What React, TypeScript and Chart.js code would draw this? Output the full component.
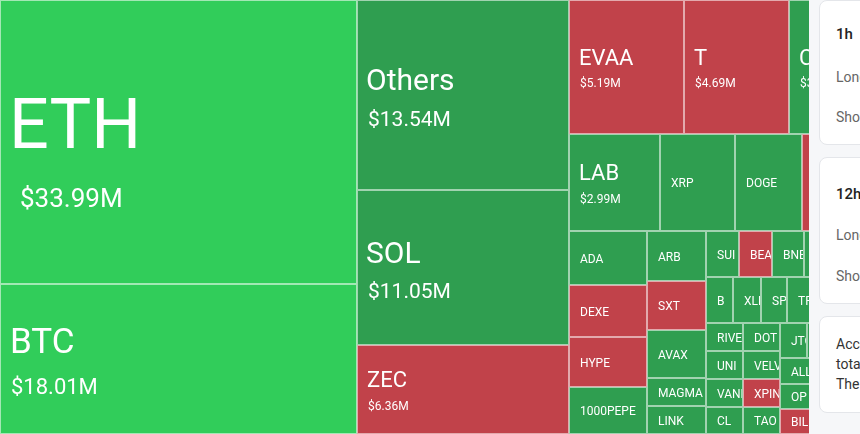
import React, { useEffect, useRef } from "react";
import { Chart, registerables } from "chart.js";

Chart.register(...registerables);

// ---------------- data ----------------
const symbols = [
  "ETH", "BTC", "Others", "SOL", "ZEC", "EVAA", "T", "COAI",
  "LAB", "XRP", "DOGE", "ASTER",
  "ADA", "DEXE", "HYPE", "1000PEPE",
  "ARB", "SXT", "AVAX", "MAGMA", "LINK",
  "SUI", "BEAT", "BNB", "ENA", "WLD",
  "B", "XLM", "SPX", "TRUMP", "LTC", "FARTCOIN",
  "RIVER", "UNI", "VANRY", "CL",
  "DOT", "VELVET", "XPIN", "TAO",
  "JTO", "PUMP", "AAVE",
  "ALLO", "OP", "BILL",
  "WIF", "NEAR", "APT", "FIL", "PENGU",
];
// liquidations in $M
const liquidations = [
  33.99, 18.01, 13.54, 11.05, 6.36, 5.19, 4.69, 3.2,
  2.99, 2.48, 2.18, 1.91,
  1.40, 1.39, 1.29, 1.25,
  0.97, 0.97, 0.94, 0.55, 0.55,
  0.51, 0.51, 0.487, 0.44, 0.41,
  0.425, 0.425, 0.40, 0.388, 0.368, 0.36,
  0.358, 0.354, 0.350, 0.347,
  0.346, 0.342, 0.338, 0.335,
  0.33, 0.32, 0.32,
  0.29, 0.285, 0.283,
  0.27, 0.25, 0.24, 0.22, 0.20,
];
// colour category of every cell
const trend = [
  "strong", "strong", "up", "up", "down", "down", "down", "up",
  "up", "up", "up", "down",
  "up", "down", "down", "up",
  "up", "down", "up", "up", "up",
  "up", "down", "up", "up", "up",
  "up", "up", "up", "up", "up", "up",
  "up", "up", "up", "up",
  "up", "up", "down", "up",
  "up", "up", "up",
  "up", "up", "down",
  "up", "down", "up", "up", "down",
];

// ---------------- layout constants ----------------
const CANVAS_H = 434;
const AREA_PER_MILLION = 2977; // px² per $1M
const VISIBLE_W = 809;
const total = liquidations.reduce((a, b) => a + b, 0);
const CANVAS_W = Math.round((total * AREA_PER_MILLION) / CANVAS_H);

const COLORS: Record<string, string> = {
  strong: "#31cd5a",
  up: "#2f9e50",
  down: "#c1424a",
};

type Cell = { i: number; x0: number; y0: number; x1: number; y1: number };

// squarified treemap (golden ratio), input order kept
function squarify(values: number[], X0: number, Y0: number, X1: number, Y1: number): Cell[] {
  const ratio = (1 + Math.sqrt(5)) / 2;
  const out: Cell[] = [];
  let x0 = X0, y0 = Y0;
  const x1 = X1, y1 = Y1;
  let value = values.reduce((a, b) => a + b, 0);
  const n = values.length;
  let i0 = 0, i1 = 0;
  while (i0 < n) {
    const dx = x1 - x0, dy = y1 - y0;
    let sumValue = values[i1++];
    let minValue = sumValue, maxValue = sumValue;
    const alpha = Math.max(dy / dx, dx / dy) / (value * ratio);
    let beta = sumValue * sumValue * alpha;
    let minRatio = Math.max(maxValue / beta, beta / minValue);
    for (; i1 < n; ++i1) {
      const nv = values[i1];
      sumValue += nv;
      if (nv < minValue) minValue = nv;
      if (nv > maxValue) maxValue = nv;
      beta = sumValue * sumValue * alpha;
      const newRatio = Math.max(maxValue / beta, beta / minValue);
      if (newRatio > minRatio) {
        sumValue -= nv;
        break;
      }
      minRatio = newRatio;
    }
    if (dx < dy) {
      const ny = i1 >= n ? y1 : y0 + (dy * sumValue) / value;
      let x = x0;
      const k = (x1 - x0) / sumValue;
      for (let i = i0; i < i1; i++) {
        const w = values[i] * k;
        out.push({ i, x0: x, y0, x1: x + w, y1: ny });
        x += w;
      }
      y0 = ny;
    } else {
      const nx = i1 >= n ? x1 : x0 + (dx * sumValue) / value;
      let y = y0;
      const k = (y1 - y0) / sumValue;
      for (let i = i0; i < i1; i++) {
        const h = values[i] * k;
        out.push({ i, x0, y0: y, x1: nx, y1: y + h });
        y += h;
      }
      x0 = nx;
    }
    value -= sumValue;
    i0 = i1;
  }
  return out;
}

type Tier = { lf: number; vf: number; ldy: number; vdy: number; lpad: number; vpad: number };
function tierFor(v: number): Tier {
  if (v >= 30) return { lf: 70, vf: 26, ldy: -18.9, vdy: 55.6, lpad: 9, vpad: 20 };
  if (v >= 15) return { lf: 35, vf: 22, ldy: -18.3, vdy: 27.6, lpad: 10, vpad: 11 };
  if (v >= 10) return { lf: 30, vf: 21, ldy: -15.4, vdy: 23.4, lpad: 9, vpad: 11 };
  if (v >= 2.9) return { lf: 22, vf: 12, ldy: -10.3, vdy: 16, lpad: 10, vpad: 11 };
  return { lf: 12, vf: 0, ldy: 0.5, vdy: 0, lpad: 11, vpad: 0 };
}

const FONT = "Roboto, 'Noto Sans', sans-serif";

function makeTreemapPlugin(cells: Cell[]) {
  return {
    id: "treemapCells",
    beforeDatasetsDraw(chart: any) {
      const { ctx } = chart;
      const xs = chart.scales.x;
      const ys = chart.scales.y;
      ctx.save();
      for (const c of cells) {
        const rx0 = Math.round(xs.getPixelForValue(c.x0));
        const rx1 = Math.round(xs.getPixelForValue(c.x1));
        const ry0 = Math.round(ys.getPixelForValue(c.y0));
        const ry1 = Math.round(ys.getPixelForValue(c.y1));
        const w = rx1 - rx0, h = ry1 - ry0;
        ctx.fillStyle = COLORS[trend[c.i]];
        ctx.fillRect(rx0, ry0, w, h);
        ctx.strokeStyle = "rgba(255,255,255,0.55)";
        ctx.lineWidth = 1;
        ctx.strokeRect(rx0 + 0.5, ry0 + 0.5, w - 1, h - 1);

        const v = liquidations[c.i];
        const t = tierFor(v);
        const cy = (ry0 + ry1) / 2;
        ctx.save();
        ctx.beginPath();
        ctx.rect(rx0 + 1, ry0 + 1, w - 2, h - 2);
        ctx.clip();
        ctx.fillStyle = "#ffffff";
        ctx.textAlign = "left";
        ctx.textBaseline = "alphabetic";
        ctx.font = `${t.lf}px ${FONT}`;
        ctx.fillText(symbols[c.i], rx0 + t.lpad, cy + t.ldy + 0.355 * t.lf);
        if (t.vf > 0) {
          ctx.font = `${t.vf}px ${FONT}`;
          ctx.fillText(`$${v.toFixed(2)}M`, rx0 + t.vpad, cy + t.vdy + 0.355 * t.vf);
        }
        ctx.restore();
      }
      ctx.restore();
    },
  };
}

const cardStyle: React.CSSProperties = {
  position: "absolute",
  left: 819,
  width: 320,
  background: "#ffffff",
  border: "1px solid #e4e6ea",
  borderRadius: 8,
  boxSizing: "border-box",
};
const lineStyle = (top: number, size: number, color: string, weight = 400): React.CSSProperties => ({
  position: "absolute",
  left: 16,
  top,
  fontSize: size,
  lineHeight: "20px",
  color,
  fontWeight: weight,
  whiteSpace: "nowrap",
});

export default function App() {
  const ref = useRef<HTMLCanvasElement>(null);
  useEffect(() => {
    document.body.style.margin = "0";
    const cells = squarify(liquidations, 0, 0, CANVAS_W, CANVAS_H);
    const chart = new Chart(ref.current as HTMLCanvasElement, {
      type: "scatter",
      data: {
        datasets: [
          {
            data: cells.map((c) => ({ x: (c.x0 + c.x1) / 2, y: (c.y0 + c.y1) / 2 })),
            pointRadius: 0,
            pointHoverRadius: 0,
          },
        ],
      },
      options: {
        animation: false,
        responsive: false,
        events: [],
        layout: { padding: 0 },
        scales: {
          x: { type: "linear", min: 0, max: CANVAS_W, display: false },
          y: { type: "linear", min: 0, max: CANVAS_H, reverse: true, display: false },
        },
        plugins: { legend: { display: false }, tooltip: { enabled: false } },
      },
      plugins: [makeTreemapPlugin(cells)],
    } as any);
    return () => chart.destroy();
  }, []);

  return (
    <div
      style={{
        position: "relative",
        width: 860,
        height: 434,
        overflow: "hidden",
        background: "#f6f7f9",
        fontFamily: FONT,
      }}
    >
      <div style={{ position: "absolute", left: 0, top: 0, width: VISIBLE_W, height: CANVAS_H, overflow: "hidden" }}>
        <canvas ref={ref} width={CANVAS_W} height={CANVAS_H} style={{ display: "block", width: CANVAS_W, height: CANVAS_H }} />
      </div>
      <div style={{ ...cardStyle, top: 0, height: 145 }}>
        <div style={lineStyle(23, 15, "#222", 500)}>1h</div>
        <div style={lineStyle(66, 14, "#666")}>Long</div>
        <div style={lineStyle(106, 14, "#666")}>Short</div>
      </div>
      <div style={{ ...cardStyle, top: 157, height: 147 }}>
        <div style={lineStyle(26, 15, "#222", 500)}>12h</div>
        <div style={lineStyle(67, 14, "#666")}>Long</div>
        <div style={lineStyle(108, 14, "#666")}>Short</div>
      </div>
      <div style={{ ...cardStyle, top: 316, height: 97 }}>
        <div style={lineStyle(17, 14, "#333")}>According to the data, in the past 24 hours,</div>
        <div style={lineStyle(37, 14, "#333")}>total liquidations across the market were recorded.</div>
        <div style={lineStyle(57, 14, "#333")}>The largest single liquidation order happened on Binance.</div>
      </div>
    </div>
  );
}
